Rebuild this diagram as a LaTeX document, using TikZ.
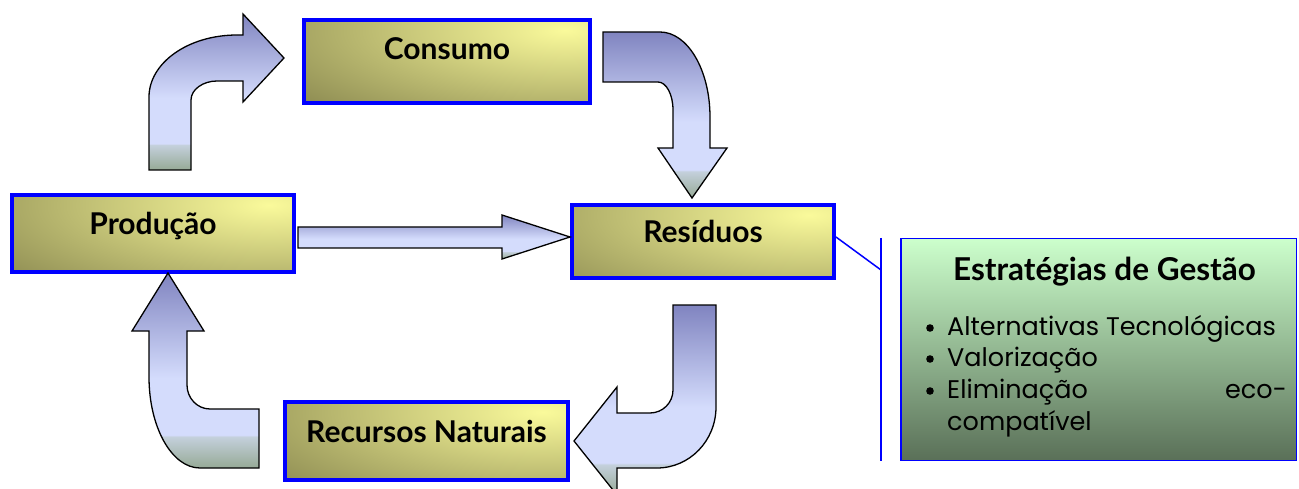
\documentclass[tikz,border=0pt]{standalone}
\usepackage{fontspec}
\setmainfont{Poppins}
\newfontfamily\labelfont{Lato}
\usetikzlibrary{calc}

\definecolor{boxblue}{RGB}{0,0,255}
\definecolor{olivedark}{RGB}{120,118,68}
\definecolor{paleyellow}{RGB}{250,250,155}
\definecolor{arrowtop}{RGB}{128,132,192}
\definecolor{arrowmid}{RGB}{212,220,252}
\definecolor{arrowlow}{RGB}{196,208,220}
\definecolor{arrowbot}{RGB}{150,170,150}
\definecolor{greentop}{RGB}{204,255,204}
\definecolor{greenbot}{RGB}{90,112,88}

% vertical shadings: the shaded path spans 25bp (bottom) to 75bp (top)
\pgfdeclareverticalshading{blockarrow}{100bp}{color(0bp)=(arrowbot); color(25bp)=(arrowbot);
  color(33bp)=(arrowlow); color(33.5bp)=(arrowmid); color(48bp)=(arrowmid);
  color(75bp)=(arrowtop); color(100bp)=(arrowtop)}
\pgfdeclareverticalshading{strategy}{100bp}{color(0bp)=(greenbot); color(25bp)=(greenbot);
  color(75bp)=(greentop); color(100bp)=(greentop)}

\tikzset{
  stagebox/.style={rectangle, draw=boxblue, line width=4pt,
    path picture={\fill[inner color=paleyellow, outer color=olivedark]
      ([xshift=-25pt,yshift=-10pt]path picture bounding box.north east)
      ellipse [x radius=415pt, y radius=135pt];}},
  stagetext/.style={font=\labelfont\bfseries\fontsize{30}{34}\selectfont, anchor=base, inner sep=0pt},
  blockarrow/.style={draw=black, line width=1.3pt, shade, shading=blockarrow},
  strategybox/.style={rectangle, draw=boxblue, line width=1.5pt, shade, shading=strategy},
  titletext/.style={font=\labelfont\bfseries\fontsize{31.5}{36}\selectfont, anchor=base, inner sep=0pt},
  itemtext/.style={font=\fontsize{25.5}{30}\selectfont, anchor=base west, inner sep=0pt},
  bluelink/.style={draw=boxblue, line width=1.5pt},
}

\begin{document}
\begin{tikzpicture}[x=1pt, y=-1pt]
\clip (0,0) rectangle (1299,489);

% stage boxes
\node[stagebox, minimum width=286pt, minimum height=83pt] (cons) at (447,61.5) {};
\node[stagebox, minimum width=282pt, minimum height=77pt] (prod) at (153,233.5) {};
\node[stagebox, minimum width=262pt, minimum height=73pt] (res) at (703,241.5) {};
\node[stagebox, minimum width=283pt, minimum height=78pt] (rec) at (426.5,441) {};

\node[stagetext] (consT) at ([yshift=1.5pt]cons.center) {Consumo};
\node[stagetext] (prodT) at ([yshift=-1.5pt]prod.center) {Produção};
\node[stagetext] (resT) at ([yshift=-1.2pt]res.center) {Resíduos};
\node[stagetext] (recT) at ([yshift=-1pt]rec.center) {Recursos Naturais};

% block arrows
% Produção -> Consumo
\path[blockarrow] (149,170) -- (149,97) .. controls (149,63) and (188,35) .. (237,35)
  -- (243,35) -- (243,14) -- (284,58) -- (243,102) -- (243,81) -- (217,81)
  .. controls (203,81) and (191,89.5) .. (191,100) -- (191,170) -- cycle;
% Consumo -> Resíduos
\path[blockarrow] (603,32) -- (660,32) .. controls (687.6,32) and (710,70) .. (710,117)
  -- (710,148) -- (727,148) -- (692,198) -- (658,148) -- (673,148) -- (673,110)
  .. controls (673,94.5) and (666.3,82) .. (658,82) -- (603,82) -- cycle;
% Produção -> Resíduos
\path[blockarrow] (298,227) -- (502,227) -- (502,215) -- (570,237) -- (502,259)
  -- (502,248) -- (298,248) -- cycle;
% Resíduos -> Recursos Naturais
\path[blockarrow] (673,305) -- (716,305) -- (716,407) .. controls (716,440.7) and (689.6,468) .. (657,468)
  -- (617,468) -- (617,495) -- (574,441) -- (617,387) -- (617,413) -- (650,413)
  .. controls (662.7,413) and (673,402.7) .. (673,390) -- cycle;
% Recursos Naturais -> Produção
\path[blockarrow] (259,409) -- (259,468) -- (200,468) .. controls (171.8,468) and (149,427.2) .. (149,377)
  -- (149,331) -- (132,331) -- (168,273) -- (204,331) -- (187,331) -- (187,385)
  .. controls (187,398.2) and (197.3,409) .. (210,409) -- cycle;

% management strategies
\node[strategybox, minimum width=395.5pt, minimum height=221.5pt] (strat) at (1098.5,349.5) {};
\coordinate (bk) at (881,270);
\coordinate (bktop) at (881,238);
\coordinate (bkbot) at (881,461);
\draw[bluelink] ([yshift=4.5pt]res.east) -- (bk);
\draw[bluelink] (bktop) -- (bkbot);

\node[titletext] (stratT) at (1104.5,280) {Estratégias de Gestão};
\fill (930,328) circle (3.8pt);
\fill (930,359) circle (3.8pt);
\fill (930,391) circle (3.8pt);
\node[itemtext] (it1) at (947,335) {Alternativas Tecnológicas};
\node[itemtext] (it2) at (947,366) {Valorização};
\node[itemtext] (it3) at (947,398) {Eliminação};
\node[itemtext, anchor=base east] (it3b) at (1287,398) {eco-};
\node[itemtext] (it4) at (947,430) {compatível};
\end{tikzpicture}
\end{document}
